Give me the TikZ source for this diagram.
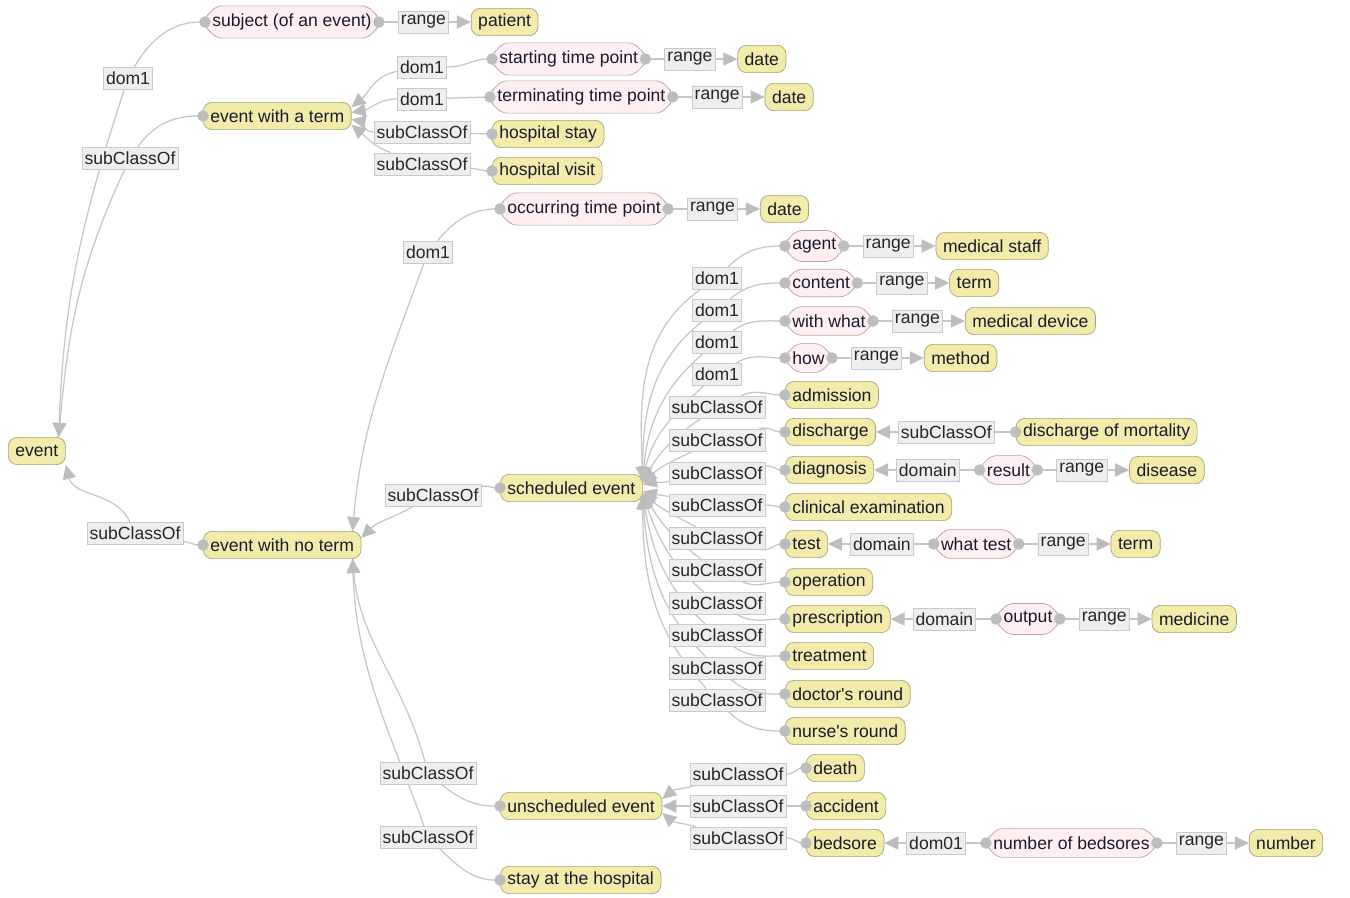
\documentclass[tikz,border=0pt]{standalone}
\usepackage{fontspec}
\setmainfont{Liberation Sans}
\usetikzlibrary{shapes.misc}
\usetikzlibrary{arrows.meta}
\usetikzlibrary{positioning}
\usetikzlibrary{backgrounds}
\definecolor{clsfill}{HTML}{F2EBAA}
\definecolor{clsline}{HTML}{A8A27C}
\definecolor{propfill}{HTML}{FFEFF2}
\definecolor{propline}{HTML}{B4A6AC}
\definecolor{lblfill}{HTML}{EEEEEE}
\definecolor{lblline}{HTML}{CACACA}
\definecolor{linkgray}{HTML}{C6C6C6}
\definecolor{tipgray}{HTML}{BDBDBD}
\definecolor{ink}{HTML}{1A1A2E}

\begin{document}
\begin{tikzpicture}[x=0.02cm,y=-0.02cm,font=\fontsize{10}{12}\selectfont]
\tikzset{cls/.style={draw=clsline,fill=clsfill,rounded corners=5pt,minimum height=15.5pt,inner xsep=4pt,inner ysep=1pt,text=ink},
prop/.style={chamfered rectangle,chamfered rectangle xsep=3pt,draw=propline,fill=propfill,rounded corners=3pt,minimum height=15.5pt,inner xsep=1pt,inner ysep=1pt,text=ink},
lbl/.style={draw=lblline,fill=lblfill,minimum height=12.5pt,inner xsep=1.5pt,inner ysep=0.5pt,text=black!85},
link/.style={draw=linkgray,line width=0.7pt},
tail/.style={link,{Circle[length=6.5pt,color=tipgray]}-,shorten <=-3.25pt},
head/.style={link,-{Triangle[length=8pt,width=7.5pt,color=tipgray]}},
node distance=0.44cm}
\begin{scope}[on background layer]
\fill[white] (0,0) rectangle (1350,898);
\end{scope}
\useasboundingbox (0,0) rectangle (1350,898);

% left columns
\node[cls,anchor=west] (event) at (8,451) {event};
\node[prop,anchor=west] (subj) at (205,22) {subject (of an event)};
\node[cls,anchor=west] (ewat) at (203,116) {event with a term};
\node[cls,anchor=west] (ewnt) at (203,545) {event with no term};
\node[prop,anchor=west] (stp) at (492,59) {starting time point};
\node[prop,anchor=west] (ttp) at (490,97) {terminating time point};
\node[cls,anchor=west] (hstay) at (492,134) {hospital stay};
\node[cls,anchor=west] (hvisit) at (492,171) {hospital visit};
\node[prop,anchor=west] (otp) at (500,209) {occurring time point};
\node[cls,anchor=west] (sched) at (500,488) {scheduled event};
\node[cls,anchor=west] (unsched) at (500,806) {unscheduled event};
\node[cls,anchor=west] (stay) at (500,880) {stay at the hospital};

% subclasses and properties of scheduled event
\foreach \n/\y/\t in {agent/246/agent, content/283/content, withwhat/321/with what, how/358/how}
  \node[prop,anchor=west] (\n) at (785,\y) {\t};
\foreach \n/\y/\t in {admission/395/admission, discharge/432/discharge, diagnosis/470/diagnosis,
  clinical/507/clinical examination, test/544/test, operation/582/operation, prescription/619/prescription,
  treatment/656/treatment, doctors/694/{doctor\textquotesingle s round}, nurses/731/{nurse\textquotesingle s round}}
  \node[cls,anchor=west] (\n) at (785,\y) {\t};
\node[cls,anchor=west] (death) at (806,768) {death};
\node[cls,anchor=west] (accident) at (806,806) {accident};
\node[cls,anchor=west] (bedsore) at (806,843) {bedsore};

% range chains
\node[lbl,right=0.38cm of subj] (r-subj) {range};
\node[cls,right=of r-subj] (patient) {patient};
\node[lbl,right=0.38cm of stp] (r-stp) {range};
\node[cls,right=of r-stp] (date1) {date};
\node[lbl,right=0.38cm of ttp] (r-ttp) {range};
\node[cls,right=of r-ttp] (date2) {date};
\node[lbl,right=0.38cm of otp] (r-otp) {range};
\node[cls,right=of r-otp] (date3) {date};
\node[lbl,right=0.38cm of agent] (r-agent) {range};
\node[cls,right=of r-agent] (staff) {medical staff};
\node[lbl,right=0.38cm of content] (r-content) {range};
\node[cls,right=of r-content] (term1) {term};
\node[lbl,right=0.38cm of withwhat] (r-withwhat) {range};
\node[cls,right=of r-withwhat] (device) {medical device};
\node[lbl,right=0.38cm of how] (r-how) {range};
\node[cls,right=of r-how] (method) {method};

% domain chains
\node[lbl,right=of discharge] (s-mort) {subClassOf};
\node[cls,right=0.42cm of s-mort] (mortality) {discharge of mortality};
\node[lbl,right=of diagnosis] (d-result) {domain};
\node[prop,right=0.4cm of d-result] (result) {result};
\node[lbl,right=0.38cm of result] (r-result) {range};
\node[cls,right=of r-result] (disease) {disease};
\node[lbl,right=of test] (d-whattest) {domain};
\node[prop,right=0.4cm of d-whattest] (whattest) {what test};
\node[lbl,right=0.38cm of whattest] (r-whattest) {range};
\node[cls,right=of r-whattest] (term2) {term};
\node[lbl,right=of prescription] (d-output) {domain};
\node[prop,right=0.4cm of d-output] (output) {output};
\node[lbl,right=0.38cm of output] (r-output) {range};
\node[cls,right=of r-output] (medicine) {medicine};
\node[lbl,right=of bedsore] (d-bedsores) {dom01};
\node[prop,right=0.4cm of d-bedsores] (bedsores) {number of bedsores};
\node[lbl,right=0.38cm of bedsores] (r-bedsores) {range};
\node[cls,right=of r-bedsores] (number) {number};

% labels on curved links
\node[lbl] (d-subj) at (128,78) {dom1};
\node[lbl] (s-ewat) at (130,158) {subClassOf};
\node[lbl] (s-ewnt) at (135,533) {subClassOf};
\node[lbl] (d-stp) at (422,67) {dom1};
\node[lbl] (d-ttp) at (422,99) {dom1};
\node[lbl] (s-hstay) at (422,132) {subClassOf};
\node[lbl] (s-hvisit) at (422,164) {subClassOf};
\node[lbl] (d-otp) at (428,252) {dom1};
\node[lbl] (s-sched) at (433,495) {subClassOf};
\node[lbl] (s-unsched) at (428,773) {subClassOf};
\node[lbl] (s-stay) at (428,837) {subClassOf};
\node[lbl] (s-death) at (738,774) {subClassOf};
\node[lbl] (s-accident) at (738,806) {subClassOf};
\node[lbl] (s-bedsore) at (738,838) {subClassOf};
\foreach \n/\y in {agent/278, content/310, withwhat/342, how/374}
  \node[lbl] (f-\n) at (717,\y) {dom1};
\foreach \n/\y in {admission/407, discharge/440, diagnosis/473, clinical/505, test/538, operation/570,
  prescription/603, treatment/635, doctors/668, nurses/700}
  \node[lbl] (f-\n) at (717,\y) {subClassOf};

% straight links
\foreach \p/\c in {subj/patient, stp/date1, ttp/date2, otp/date3, agent/staff, content/term1,
  withwhat/device, how/method, result/disease, whattest/term2, output/medicine, bedsores/number}
  {\draw[tail] (\p.east) -- (r-\p);
   \draw[head] (r-\p) -- (\c.west);}
\foreach \p/\l/\c in {mortality/s-mort/discharge, result/d-result/diagnosis, whattest/d-whattest/test,
  output/d-output/prescription, bedsores/d-bedsores/bedsore, accident/s-accident/unsched}
  {\draw[tail] (\p.west) -- (\l);
   \draw[head] (\l) -- (\c.east);}

% curved links
\draw[tail] (subj.west) to[out=180,in=60] (d-subj);
\draw[tail] (ewat.west) to[out=180,in=55] (s-ewat);
\draw[tail] (ewnt.west) to[out=180,in=-10] (s-ewnt);
\draw[tail] (stp.west) to[out=180,in=0] (d-stp);
\draw[tail] (ttp.west) -- (d-ttp);
\draw[tail] (hstay.west) -- (s-hstay);
\draw[tail] (hvisit.west) to[out=180,in=-5] (s-hvisit);
\draw[tail] (otp.west) to[out=180,in=50] (d-otp);
\draw[tail] (sched.west) to[out=180,in=10] (s-sched);
\draw[tail] (unsched.west) to[out=180,in=-40] (s-unsched);
\draw[tail] (stay.west) to[out=180,in=-45] (s-stay);
\draw[tail] (death.west) to[out=180,in=0] (s-death);
\draw[tail] (bedsore.west) to[out=180,in=0] (s-bedsore);
\begin{scope}[on background layer]
\draw[head] (d-subj) to[out=252,in=88] ([xshift=-4pt]event.north east);
\draw[head] (s-ewat) to[out=245,in=85] ([xshift=-4pt]event.north east);
\draw[head] (s-ewnt) to[out=115,in=-75] (event.south east);
\draw[head] (d-stp) to[out=190,in=40] ([yshift=5pt]ewat.east);
\draw[head] (d-ttp) to[out=180,in=10] ([yshift=2pt]ewat.east);
\draw[head] (s-hstay) to[out=180,in=-10] ([yshift=-2pt]ewat.east);
\draw[head] (s-hvisit) to[out=160,in=-40] ([yshift=-5pt]ewat.east);
\draw[head] (d-otp) to[out=250,in=85] ([xshift=-5pt]ewnt.north east);
\draw[head] (s-sched) to[out=210,in=45] ([yshift=4pt]ewnt.east);
\draw[head] (s-unsched) to[out=105,in=-85] ([xshift=-5pt]ewnt.south east);
\draw[head] (s-stay) to[out=110,in=-88] ([xshift=-5pt]ewnt.south east);
\draw[head] (s-death) to[out=195,in=40] ([yshift=4pt]unsched.east);
\draw[head] (s-bedsore) to[out=165,in=-40] ([yshift=-4pt]unsched.east);
\end{scope}
\foreach \n/\a/\b/\c/\d in {agent/45/215/92/4, content/40/218/90/4, withwhat/35/220/85/4, how/30/222/78/4,
  admission/25/215/62/3, discharge/15/205/42/3, diagnosis/8/190/15/2, clinical/0/170/-15/-2,
  test/-15/152/-40/-3, operation/-25/145/-58/-3, prescription/-30/140/-70/-4, treatment/-35/137/-80/-4,
  doctors/-40/135/-86/-4, nurses/-45/133/-90/-4}
  {\draw[tail] (\n.west) to[out=180,in=\a] (f-\n);
   \begin{scope}[on background layer]
   \draw[head] (f-\n) to[out=\b,in=\c] ([yshift=\d pt]sched.east);
   \end{scope}}
\end{tikzpicture}
\end{document}
